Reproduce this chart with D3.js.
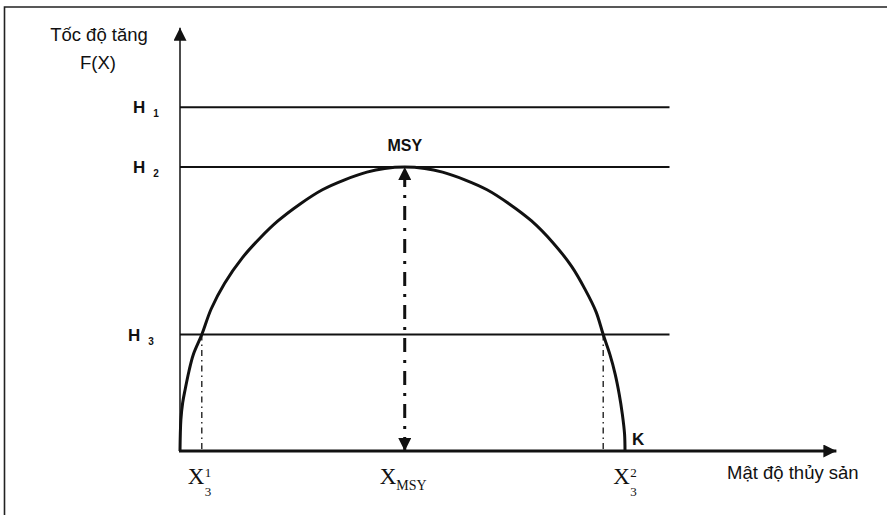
<!DOCTYPE html>
<html>
<head>
<meta charset="utf-8">
<script src="https://cdn.jsdelivr.net/npm/d3@7"></script>
<style>
  body { margin: 0; background: #fff; }
  svg { display: block; }
  .lbl { font-family: "Liberation Sans Narrow", "Arial Narrow", "Liberation Sans", sans-serif; fill: #111; }
  .xl { font-family: "Liberation Serif", "Times New Roman", serif; fill: #111; }
</style>
</head>
<body>
<div id="chart"></div>
<script>
// đường cong tăng trưởng F(X) (X: 0..K=100, F: 0..MSY=100)
const curveX = [0, 0.2, 0.6, 1.2, 2, 3, 4.9, 7, 10, 14, 18, 22, 27, 32, 37, 42, 46, 50.5,
                55, 59, 64, 69, 74, 79, 84, 88, 91, 93.5, 95.1, 96.6, 97.8, 98.7, 99.4, 99.9, 100];
const curveF = [0, 11, 17, 22, 28, 34, 41, 50, 59, 68, 75, 81, 87, 92, 95.5, 98.2, 99.5, 100,
                99.5, 98.2, 95.5, 92, 87, 81, 73, 65, 57, 49, 41, 34, 27, 20, 13, 6, 0];

// mức khai thác
const hNames = ["1", "2", "3"];
const hValues = [121, 100, 41];

// điểm trên trục hoành
const xMarks = [4.9, 50.5, 95.1];   // X3^1, X_MSY, X3^2
const kValue = 100;
const xAxisMax = 147.5;
const yAxisMax = 149;
const hLineEnd = 110;

const width = 887, height = 515;
const x0 = 180, y0 = 451;

const x = d3.scaleLinear().domain([0, 100]).range([x0, 625]);
const y = d3.scaleLinear().domain([0, 100]).range([y0, 167]);

const svg = d3.select("#chart").append("svg")
    .attr("width", width).attr("height", height);

const defs = svg.append("defs");
defs.append("marker").attr("id", "ahBig")
    .attr("viewBox", "0 0 10 10").attr("refX", 10).attr("refY", 5)
    .attr("markerWidth", 15).attr("markerHeight", 13)
    .attr("markerUnits", "userSpaceOnUse")
    .attr("orient", "auto-start-reverse")
    .append("path").attr("d", "M0,0L10,5L0,10Z").attr("fill", "#111");

// khung
svg.append("path")
    .attr("d", "M4.5,515V7H887")
    .attr("fill", "none").attr("stroke", "#222").attr("stroke-width", 1.6);

// đường mức H
svg.selectAll(".hline").data(hValues).enter()
    .append("line").attr("class", "hline")
    .attr("x1", x(0)).attr("x2", x(hLineEnd))
    .attr("y1", d => y(d)).attr("y2", d => y(d))
    .attr("stroke", "#111").attr("stroke-width", 2);

// nhãn H
hValues.forEach((v, i) => {
    let t = svg.append("text").attr("class", "lbl")
        .attr("x", x0 - 47 - (i == 2 ? 5 : 0)).attr("y", y(v) + 6)
        .attr("font-size", 17).attr("font-weight", "bold");
    t.append("tspan").text("H");
    t.append("tspan").attr("dx", 8).attr("dy", 4).attr("font-size", 10).text(hNames[i]);
});

// đường gióng X3
[xMarks[0], xMarks[2]].forEach(v => {
    svg.append("line")
        .attr("x1", x(v)).attr("x2", x(v))
        .attr("y1", y(hValues[2])).attr("y2", y0)
        .attr("stroke", "#111").attr("stroke-width", 1.3)
        .attr("stroke-dasharray", "6,4,1.5,4");
});

// mũi tên MSY
svg.append("line")
    .attr("x1", x(xMarks[1])).attr("x2", x(xMarks[1]))
    .attr("y1", y(0)).attr("y2", y(100))
    .attr("stroke", "#111").attr("stroke-width", 3)
    .attr("stroke-dasharray", "14,8,3,8")
    .attr("marker-start", "url(#ahBig)")
    .attr("marker-end", "url(#ahBig)");

// trục
svg.append("line")
    .attr("x1", x0).attr("x2", x0)
    .attr("y1", y0 + 1).attr("y2", y(yAxisMax))
    .attr("stroke", "#111").attr("stroke-width", 1.5)
    .attr("marker-end", "url(#ahBig)");
svg.append("line")
    .attr("x1", x0 - 1).attr("x2", x(xAxisMax))
    .attr("y1", y0).attr("y2", y0)
    .attr("stroke", "#111").attr("stroke-width", 3)
    .attr("marker-end", "url(#ahBig)");

// đường cong
const pts = curveX.map((v, i) => [v, curveF[i]]);
svg.append("path").datum(pts)
    .attr("d", d3.line().x(d => x(d[0])).y(d => y(d[1])).curve(d3.curveCatmullRom.alpha(0.5)))
    .attr("fill", "none").attr("stroke", "#111").attr("stroke-width", 3);

// nhãn trục
svg.append("text").attr("class", "lbl")
    .attr("x", 99).attr("y", 41).attr("text-anchor", "middle")
    .attr("font-size", 18.5).text("Tốc độ tăng");
svg.append("text").attr("class", "lbl")
    .attr("x", 98).attr("y", 69).attr("text-anchor", "middle")
    .attr("font-size", 18.5).text("F(X)");
svg.append("text").attr("class", "lbl")
    .attr("x", 727).attr("y", 479)
    .attr("font-size", 18.5).text("Mật độ thủy sản");

svg.append("text").attr("class", "lbl")
    .attr("x", x(xMarks[1])).attr("y", y(100) - 16).attr("text-anchor", "middle")
    .attr("font-size", 16).attr("font-weight", "bold").text("MSY");
svg.append("text").attr("class", "lbl")
    .attr("x", x(kValue) + 7).attr("y", y0 - 6)
    .attr("font-size", 17).attr("font-weight", "bold").text("K");

// nhãn X
function xsub(px, sup, sub) {
    let g = svg.append("g");
    g.append("text").attr("class", "xl").attr("x", px).attr("y", 484)
        .attr("font-size", 23).text("X");
    g.append("text").attr("class", "xl").attr("x", px + 17).attr("y", 477)
        .attr("font-size", 13).text(sup);
    g.append("text").attr("class", "xl").attr("x", px + 17).attr("y", 496)
        .attr("font-size", 13).text(sub);
}
xsub(x(xMarks[0]) - 14, "1", "3");
xsub(x(xMarks[2]) + 10, "2", "3");
let tm = svg.append("text").attr("class", "xl").attr("x", x(xMarks[1]) - 25).attr("y", 484)
    .attr("font-size", 23);
tm.append("tspan").text("X");
tm.append("tspan").attr("dy", 6).attr("font-size", 14).text("MSY");
</script>
</body>
</html>
